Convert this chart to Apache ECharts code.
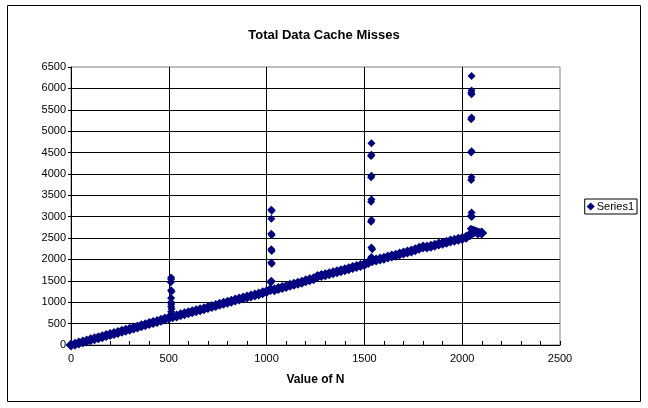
<!DOCTYPE html>
<html>
<head>
<meta charset="utf-8">
<script src="https://cdn.jsdelivr.net/npm/echarts@6/dist/echarts.min.js"></script>
<style>
html,body{margin:0;padding:0;background:#fff;}
#chart{width:648px;height:408px;}
</style>
</head>
<body>
<div id="chart"></div>
<script>
// main band, read every 20 N
var lineN = [0,20,40,60,80,100,120,140,160,180,200,220,240,260,280,300,320,340,360,380,
	400,420,440,460,480,500,520,540,560,580,600,620,640,660,680,700,720,740,760,780,
	800,820,840,860,880,900,920,940,960,980,1000,1020,1040,1060,1080,1100,1120,1140,1160,1180,
	1200,1220,1240,1260,1280,1300,1320,1340,1360,1380,1400,1420,1440,1460,1480,1500,1520,1540,1560,1580,
	1600,1620,1640,1660,1680,1700,1720,1740,1760,1780,1800,1820,1840,1860,1880,1900,1920,1940,1960,1980,
	2000,2020,2040,2060,2080,2100];
var lineMisses = [0,20,45,70,95,120,145,170,195,220,245,270,295,320,345,370,395,420,448,472,
	500,525,550,578,605,632,660,680,705,730,755,778,800,825,850,875,900,925,950,975,
	1000,1025,1050,1075,1100,1120,1145,1170,1195,1220,1250,1300,1290,1320,1345,1370,1395,1420,1445,1470,
	1500,1525,1550,1600,1625,1640,1665,1690,1710,1735,1760,1785,1810,1835,1860,1885,1930,1970,1990,2010,
	2030,2055,2080,2100,2125,2150,2175,2200,2225,2260,2290,2290,2310,2335,2360,2380,2405,2430,2450,2470,
	2490,2520,2580,2640,2620,2620];

// spikes near powers of two
var spikeN = [512,512,510,512,514,512,511,513,512,514,512,
	1024,1026,1024,1024,1026,1024,1026,1024,1026,1024,1022,
	1536,1536,1534,1536,1534,1536,1534,1536,1534,1536,1540,1536,1540,
	2048,2048,2046,2048,2048,2046,2048,2046,2048,2046,2048,2046,2048,2044,2056,2070,2090];
var spikeMisses = [1580,1540,1470,1280,1250,1100,1000,960,900,850,780,
	3160,3140,2950,2600,2570,2240,2200,1930,1900,1500,1460,
	4720,4450,4420,3960,3920,3400,3350,2920,2880,2280,2240,2060,2000,
	6290,5950,5900,5860,5320,5280,4530,4500,3920,3860,3100,3030,2990,2720,2700,2680,2640];

var xTicks = [0, 2500, 500];
var yTicks = [0, 6500, 500];

var points = [];
for (var i = 0; i < lineN.length; i++) points.push([lineN[i], lineMisses[i]]);
for (var j = 0; j < spikeN.length; j++) points.push([spikeN[j], spikeMisses[j]]);

var myChart = echarts.init(document.getElementById('chart'));
var font = 'Arial, "Liberation Sans", sans-serif';
var plain = function (v) { return String(v); };
var option = {
	backgroundColor: '#fff',
	animation: false,
	textStyle: { fontFamily: font },
	title: {
		text: 'Total Data Cache Misses',
		left: 'center',
		top: 24,
		textStyle: { fontSize: 13, fontWeight: 'bold', color: '#000', fontFamily: font }
	},
	legend: {
		data: ['Series1'],
		orient: 'vertical',
		right: 11,
		top: 199,
		icon: 'diamond',
		itemWidth: 8,
		itemHeight: 8,
		itemGap: 2,
		padding: [2, 3, 2, 2],
		borderColor: '#000',
		borderWidth: 1,
		textStyle: { fontSize: 11, color: '#000', fontFamily: font, padding: [0, 0, 0, -3] }
	},
	grid: {
		left: 71,
		right: 88,
		top: 67,
		bottom: 63,
		show: true,
		borderColor: '#808080',
		borderWidth: 1,
		backgroundColor: '#fff'
	},
	xAxis: {
		type: 'value',
		min: xTicks[0],
		max: xTicks[1],
		interval: xTicks[2],
		name: 'Value of N',
		nameLocation: 'middle',
		nameGap: 29,
		nameTextStyle: { fontSize: 12, fontWeight: 'bold', color: '#000', fontFamily: font },
		axisLine: { lineStyle: { color: '#000', width: 1 } },
		axisTick: { show: true, inside: true, length: 4, lineStyle: { color: '#000' } },
		minorTick: { show: true, splitNumber: 5, length: 4, lineStyle: { color: '#000' } },
		axisLabel: { fontSize: 11, color: '#000', margin: 8, fontFamily: font, formatter: plain },
		splitLine: { show: true, showMinLine: false, showMaxLine: false, lineStyle: { color: '#000', width: 1 } }
	},
	yAxis: {
		type: 'value',
		min: yTicks[0],
		max: yTicks[1],
		interval: yTicks[2],
		axisLine: { show: true, lineStyle: { color: '#000', width: 1 } },
		axisTick: { show: true, length: 3, lineStyle: { color: '#000' } },
		axisLabel: { fontSize: 11, color: '#000', margin: 5, fontFamily: font, formatter: plain },
		splitLine: { show: true, showMinLine: false, showMaxLine: false, lineStyle: { color: '#000', width: 1 } }
	},
	graphic: [{
		type: 'rect',
		shape: { x: 7.5, y: 5.5, width: 633, height: 396 },
		style: { fill: null, stroke: '#000', lineWidth: 1 },
		silent: true,
		z: 100
	}],
	series: [{
		name: 'Series1',
		type: 'scatter',
		symbol: 'diamond',
		// band drawn thicker than the isolated spike points
		symbolSize: function (val, params) {
			return params.dataIndex < lineN.length ? 11 : 8;
		},
		itemStyle: { color: '#000080', opacity: 1 },
		data: points
	}]
};
myChart.setOption(option);
</script>
</body>
</html>
